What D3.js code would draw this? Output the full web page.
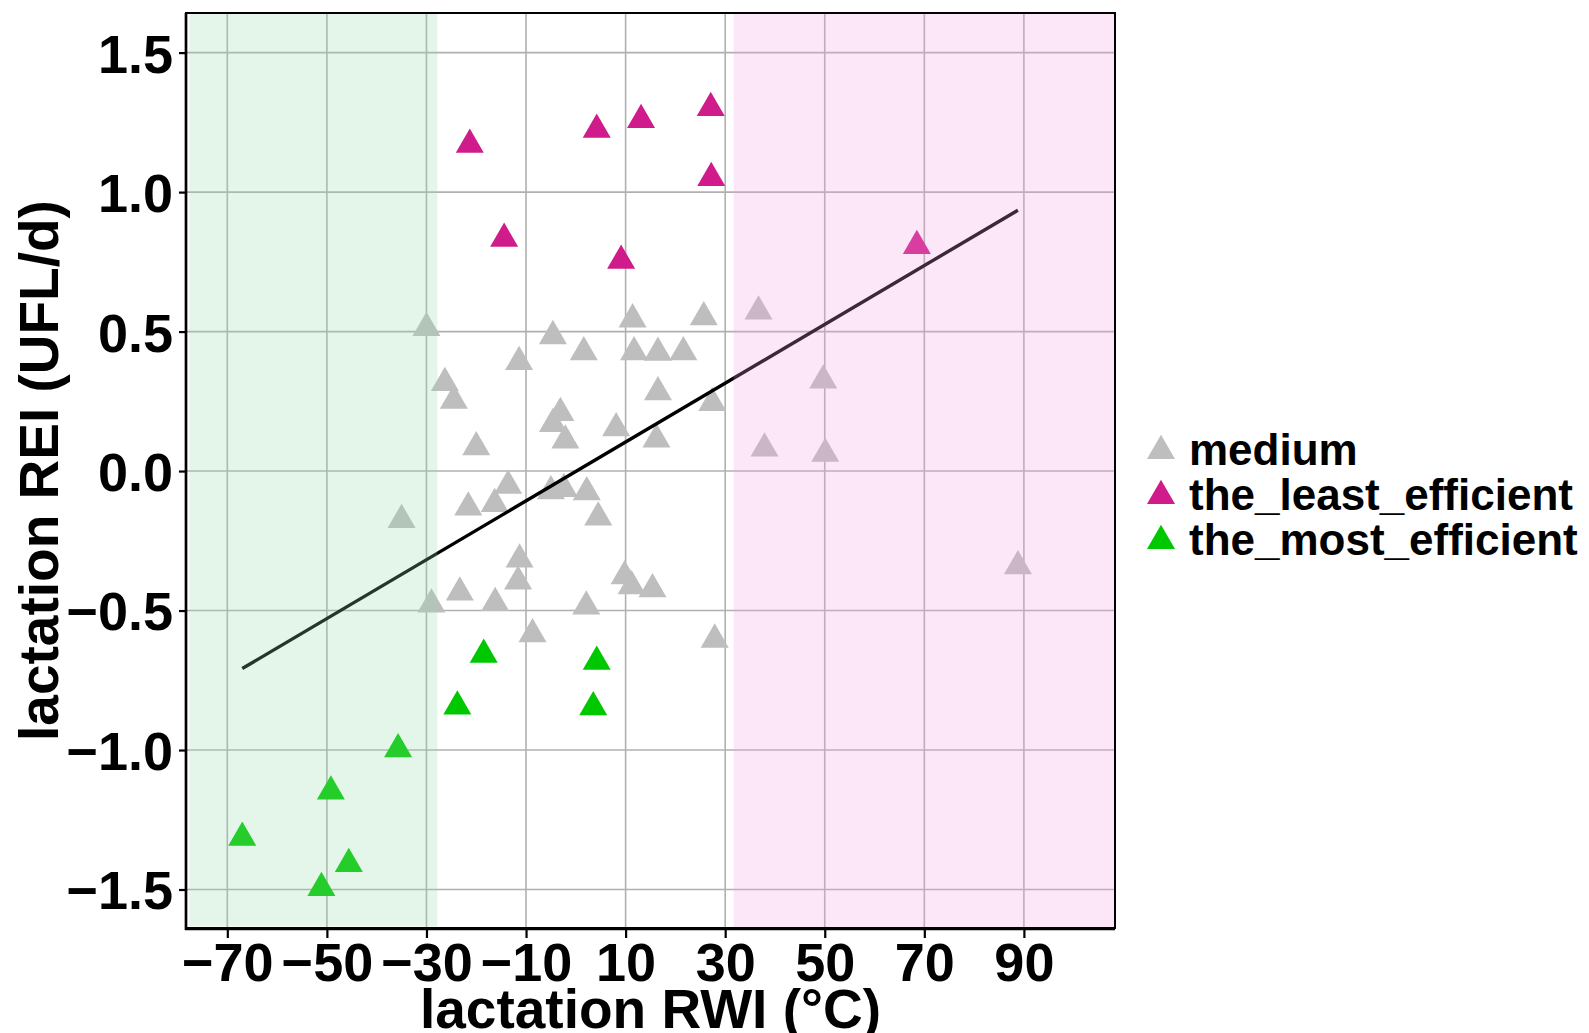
<!DOCTYPE html>
<html>
<head>
<meta charset="utf-8">
<script src="https://cdn.jsdelivr.net/npm/d3@7"></script>
<style>
  html, body { margin: 0; padding: 0; background: #fff; }
  svg text { font-family: "Liberation Sans", Arial, sans-serif; font-weight: bold; fill: #000; }
</style>
</head>
<body>
<svg id="chart" width="1589" height="1033"></svg>
<script>
// groups shown in the legend, in legend order
const groups = ['medium', 'the_least_efficient', 'the_most_efficient'];
const groupColors = ['#bebebe', '#d01c8b', '#00c800'];

// [RWI, REI] pairs
const mediumPts = [
  [-30.0, 0.513], [-4.6, 0.484], [11.4, 0.544], [25.7, 0.552], [-11.4, 0.391],
  [1.6, 0.426], [11.7, 0.426], [16.5, 0.424], [21.6, 0.426], [-26.3, 0.316],
  [-24.5, 0.252], [16.5, 0.283], [27.4, 0.244], [-3.1, 0.208], [-4.6, 0.169],
  [-2.1, 0.110], [8.1, 0.154], [16.2, 0.113], [-20.0, 0.086], [-13.6, -0.052],
  [-21.6, -0.130], [-16.3, -0.118], [-5.0, -0.072], [-2.4, -0.064], [2.2, -0.076],
  [4.5, -0.166], [-35.0, -0.175], [-11.3, -0.317], [-11.6, -0.396], [9.8, -0.377],
  [11.2, -0.413], [15.4, -0.423], [-23.3, -0.435], [-29.0, -0.478], [-16.2, -0.473],
  [2.1, -0.485], [-8.7, -0.585], [27.9, -0.604], [36.7, 0.572], [49.7, 0.325],
  [37.9, 0.081], [50.1, 0.062], [88.8, -0.341]
];
const leastPts = [
  [-21.3, 1.170], [4.2, 1.224], [13.1, 1.259], [27.1, 1.302],
  [27.2, 1.051], [-14.4, 0.833], [9.1, 0.754], [68.5, 0.807]
];
const mostPts = [
  [-18.5, -0.658], [4.2, -0.683], [-23.8, -0.844], [3.5, -0.846], [-35.7, -0.997],
  [-49.2, -1.148], [-67.0, -1.314], [-45.6, -1.408], [-51.1, -1.494]
];

// fitted lm line end points
const fitLine = [[-67.0, -0.708], [88.8, 0.935]];

// shaded bands: [xmin, xmax, ymin, ymax]
const coolBand = [-77.6, -27.8, -1.632, 1.642];
const warmBand = [31.7, 108.3, -1.638, 1.642];

const xTicks = [-70, -50, -30, -10, 10, 30, 50, 70, 90];
const yTicks = [-1.5, -1.0, -0.5, 0.0, 0.5, 1.0, 1.5];
const xDomain = [-78.3, 108.3];
const yDomain = [-1.638, 1.642];

const svg = d3.select('#chart');
const panel = { left: 186, right: 1115, top: 13, bottom: 928 };

const x = d3.scaleLinear().domain(xDomain).range([panel.left, panel.right]);
const y = d3.scaleLinear().domain(yDomain).range([panel.bottom, panel.top]);

const minus = (s) => s.replace('-', '\u2212');

// grid
const grid = svg.append('g').attr('stroke', '#b0b0b0').attr('stroke-width', 1.6);
grid.selectAll('.gx').data(xTicks).join('line')
  .attr('x1', (d) => x(d)).attr('x2', (d) => x(d))
  .attr('y1', panel.top).attr('y2', panel.bottom);
grid.selectAll('.gy').data(yTicks).join('line')
  .attr('x1', panel.left).attr('x2', panel.right)
  .attr('y1', (d) => y(d)).attr('y2', (d) => y(d));

// points
const tri = d3.symbol().type(d3.symbolTriangle).size(340);
const series = [mediumPts, leastPts, mostPts];
series.forEach((pts, i) => {
  svg.append('g').selectAll('path').data(pts).join('path')
    .attr('d', tri)
    .attr('transform', (d) => `translate(${x(d[0])},${y(d[1])})`)
    .attr('fill', groupColors[i]);
});

// regression line
svg.append('path')
  .datum(fitLine)
  .attr('fill', 'none')
  .attr('stroke', '#000')
  .attr('stroke-width', 3.4)
  .attr('d', d3.line().x((d) => x(d[0])).y((d) => y(d[1])));

// translucent bands on top
[[coolBand, '#8fdca6'], [warmBand, '#f0a0e0']].forEach(([b, c]) => {
  svg.append('rect')
    .attr('x', x(b[0]))
    .attr('y', y(b[3]))
    .attr('width', x(b[1]) - x(b[0]))
    .attr('height', y(b[2]) - y(b[3]))
    .attr('fill', c)
    .attr('fill-opacity', 0.25);
});

// panel border
svg.append('rect')
  .attr('x', panel.left).attr('y', panel.top)
  .attr('width', panel.right - panel.left).attr('height', panel.bottom - panel.top)
  .attr('fill', 'none').attr('stroke', '#000').attr('stroke-width', 2);

// axes
const yAxis = svg.append('g')
  .attr('transform', `translate(${panel.left},0)`)
  .call(d3.axisLeft(y).tickValues(yTicks).tickSize(7).tickPadding(6).tickFormat(d3.format('.1f')));
const xAxis = svg.append('g')
  .attr('transform', `translate(0,${panel.bottom + 1})`)
  .call(d3.axisBottom(x).tickValues(xTicks).tickSize(9).tickPadding(5).tickFormat((d) => minus(String(d))));

[yAxis, xAxis].forEach((g) => {
  g.select('.domain').attr('stroke', '#000').attr('stroke-width', 2.7);
  g.selectAll('.tick line').attr('stroke', '#000').attr('stroke-width', 2.2);
  g.selectAll('.tick text').attr('font-size', 54).attr('fill', '#000')
    .style('font-family', '"Liberation Sans", Arial, sans-serif').style('font-weight', 'bold');
});
yAxis.select('.domain').attr('d', `M0,${panel.top}V${panel.bottom + 2}`);
xAxis.select('.domain').attr('d', `M${panel.left - 1},0H${panel.right}`);
yAxis.selectAll('.tick text').attr('dy', '0.36em');

// axis titles
svg.append('text')
  .attr('x', (panel.left + panel.right) / 2)
  .attr('y', 1028)
  .attr('text-anchor', 'middle')
  .attr('font-size', 55)
  .text('lactation RWI (\u00b0C)');

svg.append('text')
  .attr('transform', `translate(58,${(panel.top + panel.bottom) / 2}) rotate(-90)`)
  .attr('text-anchor', 'middle')
  .attr('font-size', 55)
  .text('lactation REI (UFL/d)');

// legend
const legend = svg.append('g').attr('transform', 'translate(1161,465)');
groups.forEach((g, i) => {
  const row = legend.append('g').attr('transform', `translate(0,${i * 45})`);
  row.append('path')
    .attr('d', tri)
    .attr('transform', 'translate(0,-14)')
    .attr('fill', groupColors[i]);
  row.append('text')
    .attr('x', 28)
    .attr('y', 0)
    .attr('font-size', 44)
    .text(g);
});
</script>
</body>
</html>
